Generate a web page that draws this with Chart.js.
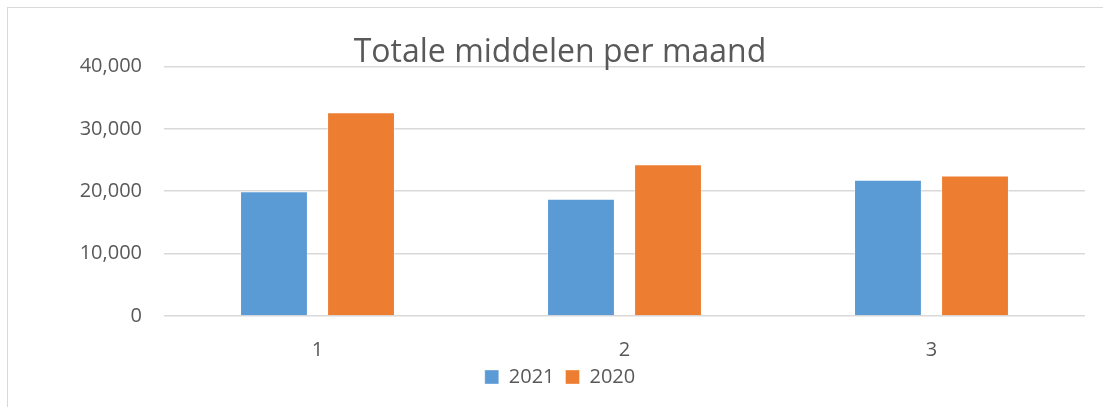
<!DOCTYPE html>
<html>
<head>
<meta charset="utf-8">
<script src="https://cdn.jsdelivr.net/npm/chart.js@4"></script>
<style>
  html, body { margin: 0; padding: 0; background: #fff; }
  #wrap { position: relative; width: 1103px; height: 407px; overflow: hidden; }
  #frame { position: absolute; left: 7px; top: 7px; width: 1120px; height: 420px; border: 1px solid #d9d9d9; }
  #chart { position: absolute; left: 0; top: 0; }
</style>
</head>
<body>
<div id="wrap">
  <div id="frame"></div>
  <canvas id="chart" width="1103" height="407"></canvas>
</div>
<script>
const categories = ["1", "2", "3"];
const values2021 = [20000, 18800, 21850];
const values2020 = [32650, 24300, 22500];
const yTicks = [0, 10000, 20000, 30000, 40000];

const textColor = "#595959";
const fontFamily = "'Open Sans', 'Noto Sans', sans-serif";

const ctx = document.getElementById("chart").getContext("2d");
new Chart(ctx, {
  type: "bar",
  data: {
    labels: categories,
    datasets: [
      {
        label: "2021",
        data: values2021,
        backgroundColor: "#5B9BD5",
        borderColor: "rgba(255,255,255,0.35)",
        borderWidth: 1,
      },
      {
        label: "2020",
        data: values2020,
        backgroundColor: "#ED7D31",
        borderColor: "rgba(255,255,255,0.35)",
        borderWidth: 1,
      },
    ],
  },
  options: {
    responsive: false,
    animation: false,
    layout: {
      padding: { left: 35, right: 18, top: 0, bottom: 10 },
    },
    datasets: {
      bar: {
        categoryPercentage: 0.567,
        barPercentage: 0.78,
      },
    },
    scales: {
      x: {
        afterFit: (scale) => {
          scale.height = 40;
        },
        grid: { display: false },
        border: { display: false },
        ticks: {
          color: textColor,
          font: { family: fontFamily, size: 20 },
          padding: 14,
        },
      },
      y: {
        min: 0,
        max: 40000,
        afterFit: (scale) => {
          scale.width = 129;
        },
        afterBuildTicks: (scale) => {
          scale.ticks = yTicks.map((v) => ({ value: v }));
        },
        grid: { color: "#d9d9d9", lineWidth: 1.5, drawTicks: false },
        border: { display: false },
        ticks: {
          color: textColor,
          font: { family: fontFamily, size: 20 },
          padding: 22,
          callback: (v) => v.toLocaleString("en-US"),
        },
      },
    },
    plugins: {
      title: {
        display: true,
        text: "Totale middelen per maand",
        color: textColor,
        font: { family: fontFamily, size: 32, weight: "normal" },
        padding: { top: 34, bottom: -6 },
      },
      legend: {
        position: "bottom",
        labels: {
          color: textColor,
          font: { family: fontFamily, size: 20 },
          boxWidth: 14,
          boxHeight: 14,
          padding: 11,
        },
      },
      tooltip: { enabled: false },
    },
  },
});
</script>
</body>
</html>
